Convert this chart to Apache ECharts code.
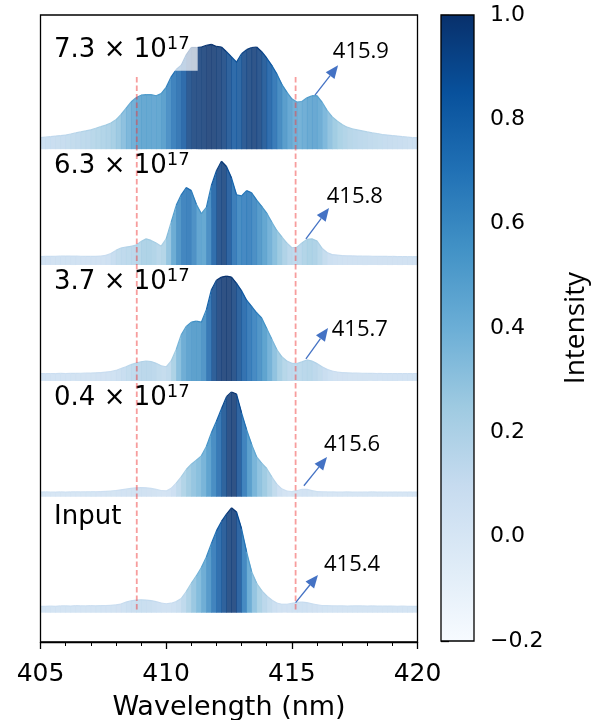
<!DOCTYPE html>
<html><head><meta charset="utf-8">
<script src="https://cdn.jsdelivr.net/npm/echarts@6/dist/echarts.min.js"></script>
<style>html,body{margin:0;padding:0;background:#fff}#c{width:601px;height:720px}</style>
</head><body><div id="c"></div>
<script>
// ---------- data ----------
const wavelengths = [405.0,405.2,405.4,405.6,405.8,406.0,406.2,406.4,406.6,406.8,407.0,407.2,407.4,407.6,407.8,408.0,408.2,408.4,408.6,408.8,409.0,409.2,409.4,409.6,409.8,410.0,410.2,410.4,410.6,410.8,411.0,411.2,411.4,411.6,411.8,412.0,412.2,412.4,412.6,412.8,413.0,413.2,413.4,413.6,413.8,414.0,414.2,414.4,414.6,414.8,415.0,415.2,415.4,415.6,415.8,416.0,416.2,416.4,416.6,416.8,417.0,417.2,417.4,417.6,417.8,418.0,418.2,418.4,418.6,418.8,419.0,419.2,419.4,419.6,419.8,420.0];

const specInput = [0.06,0.06,0.062,0.06,0.064,0.065,0.063,0.066,0.065,0.064,0.066,0.065,0.067,0.068,0.07,0.074,0.082,0.1,0.113,0.12,
  0.122,0.12,0.115,0.105,0.092,0.085,0.09,0.105,0.135,0.2,0.28,0.35,0.43,0.53,0.66,0.78,0.87,0.94,1.0,0.96,
  0.8,0.58,0.39,0.28,0.21,0.16,0.12,0.092,0.08,0.08,0.088,0.097,0.1,0.095,0.085,0.075,0.068,0.066,
  0.065,0.064,0.065,0.063,0.064,0.065,0.064,0.063,0.064,0.063,0.062,0.063,0.062,0.061,0.062,0.061,0.06,0.06];

const spec04 = [0.045,0.046,0.044,0.045,0.046,0.045,0.046,0.047,0.046,0.047,0.048,0.048,0.05,0.052,0.055,0.06,0.066,0.073,0.08,0.085,
  0.087,0.086,0.08,0.07,0.06,0.056,0.08,0.13,0.19,0.26,0.31,0.35,0.39,0.48,0.61,0.72,0.84,0.955,1.0,0.98,
  0.8,0.64,0.5,0.38,0.32,0.27,0.19,0.12,0.075,0.055,0.05,0.058,0.072,0.07,0.058,0.05,
  0.047,0.046,0.046,0.045,0.045,0.046,0.045,0.044,0.045,0.045,0.046,0.045,0.045,0.044,0.045,0.045,0.044,0.045,0.045,0.044];

const spec37 = [0.07,0.07,0.071,0.07,0.072,0.071,0.072,0.072,0.073,0.074,0.075,0.077,0.08,0.084,0.09,0.1,0.118,0.135,0.155,0.17,
  0.183,0.19,0.185,0.168,0.145,0.135,0.19,0.3,0.44,0.52,0.56,0.57,0.56,0.68,0.87,0.96,0.99,1.0,0.99,0.93,
  0.86,0.77,0.71,0.65,0.6,0.5,0.4,0.3,0.23,0.19,0.168,0.165,0.182,0.2,0.19,0.165,0.135,0.11,0.095,0.085,
  0.08,0.077,0.075,0.074,0.073,0.072,0.072,0.071,0.071,0.07,0.071,0.07,0.07,0.07,0.07,0.07];

const spec63 = [0.08,0.082,0.083,0.084,0.085,0.086,0.085,0.085,0.084,0.083,0.082,0.083,0.085,0.092,0.11,0.14,0.163,0.172,0.178,0.19,
  0.225,0.25,0.235,0.21,0.18,0.25,0.41,0.57,0.67,0.74,0.71,0.58,0.49,0.55,0.76,0.9,0.99,0.94,0.83,0.67,
  0.66,0.71,0.69,0.62,0.56,0.495,0.41,0.33,0.27,0.21,0.165,0.17,0.21,0.245,0.25,0.23,0.16,0.12,0.1,0.095,
  0.09,0.088,0.087,0.086,0.085,0.085,0.084,0.083,0.083,0.082,0.082,0.081,0.081,0.08,0.08,0.08];

const spec73 = [0.11,0.115,0.12,0.125,0.13,0.135,0.145,0.155,0.165,0.175,0.185,0.2,0.215,0.23,0.25,0.28,0.33,0.39,0.45,0.49,
  0.515,0.52,0.52,0.51,0.53,0.59,0.69,0.76,0.8,0.9,0.97,0.97,0.975,0.99,1.0,0.98,0.975,0.93,0.88,0.83,
  0.91,0.95,0.97,0.975,0.93,0.87,0.8,0.72,0.62,0.545,0.48,0.45,0.455,0.49,0.51,0.51,0.45,0.37,0.31,0.27,
  0.235,0.21,0.195,0.185,0.175,0.165,0.155,0.15,0.14,0.135,0.13,0.125,0.12,0.115,0.11,0.11];

const spectra = [specInput, spec04, spec37, spec63, spec73];
const fluenceMantissa = ['Input', '0.4', '3.7', '6.3', '7.3'];
const fluenceExponent = '17';
const peakLabels = ['415.4', '415.6', '415.7', '415.8', '415.9'];
const markerWavelengths = [408.83, 415.15];
const xTicks = [405, 410, 415, 420];
const colorbarTicks = [-0.2, 0.0, 0.2, 0.4, 0.6, 0.8, 1.0];

// ---------- layout / annotation settings ----------
const OFFSET_STEP = 1.105;
const offsets = spectra.map((_, i) => i * OFFSET_STEP);
const Y_MIN = -0.28, Y_MAX = 5.70;
const arrowFrom = [[415.15,0.095],[415.48,0.105],[415.56,0.21],[415.56,0.25],[415.92,0.515]];
const arrowTo   = [[416.04,0.36],[416.40,0.38],[416.44,0.505],[416.48,0.545],[416.84,0.80]];
const peakLabelAt = [[416.28,0.461],[416.28,0.499],[416.59,0.491],[416.39,0.649],[416.63,0.932]];
const nameLabelX = 405.30;
const nameLabelY = [0.90, 0.925, 0.925, 0.925, 0.925];
const dashRange = [0.03, 5.12];

const blues = ['#f7fbff','#deebf7','#c6dbef','#9ecae1','#6baed6','#4292c6','#2171b5','#08519c','#08306b'];

const chart = echarts.init(document.getElementById('c'), null, {renderer:'canvas'});

function makeSpectrum(off){
  return function(params, api){
    const x0 = api.value(0), v0 = api.value(1), x1 = api.value(2), v1 = api.value(3);
    const b0 = api.coord([x0, off]), t0 = api.coord([x0, off+v0]);
    const t1 = api.coord([x1, off+v1]), b1 = api.coord([x1, off]);
    const color = api.visual('color');
    return {type:'group', children:[
      {type:'polygon', shape:{points:[[b0[0],b0[1]],[t0[0],t0[1]],[t1[0]+0.5,t1[1]],[b1[0]+0.5,b1[1]]]},
        style:{fill:color, opacity:0.84}},
      {type:'line', shape:{x1:t0[0],y1:t0[1],x2:t1[0],y2:t1[1]}, style:{stroke:color, lineWidth:1.2}}
    ]};
  };
}

const series = [];
spectra.forEach((vals, s) => {
  const data = [];
  for (let i = 0; i < wavelengths.length - 1; i++) {
    data.push([wavelengths[i], vals[i], wavelengths[i+1], vals[i+1], (vals[i]+vals[i+1])/2]);
  }
  series.push({type:'custom', xAxisIndex:0, yAxisIndex:0, silent:true, z:2, data,
    encode:{x:[0,2], y:[1,3]}, renderItem: makeSpectrum(offsets[s])});
});

// dashed reference lines (drawn on top)
markerWavelengths.forEach(w => {
  series.push({type:'line', xAxisIndex:0, yAxisIndex:0, silent:true, z:9, showSymbol:false, symbol:'none',
    data:[[w, dashRange[0]],[w, dashRange[1]]],
    lineStyle:{color:'rgba(240,60,60,0.5)', width:1.8, type:[5.5,3]}});
});

// arrows + peak labels
series.push({type:'custom', xAxisIndex:0, yAxisIndex:0, silent:true, z:6,
  data: peakLabels.map((t, i) => [arrowFrom[i][0], arrowFrom[i][1]+offsets[i], arrowTo[i][0], arrowTo[i][1]+offsets[i],
                                   peakLabelAt[i][0], peakLabelAt[i][1]+offsets[i], i]),
  renderItem: function(params, api){
    const f = api.coord([api.value(0), api.value(1)]);
    const t = api.coord([api.value(2), api.value(3)]);
    const lp = api.coord([api.value(4), api.value(5)]);
    const idx = api.value(6);
    const dx = t[0]-f[0], dy = t[1]-f[1], len = Math.hypot(dx, dy);
    const ux = dx/len, uy = dy/len, nx = -uy, ny = ux;
    const L = 13, W = 5.5;
    const cx = t[0]-ux*L, cy = t[1]-uy*L;
    return {type:'group', children:[
      {type:'line', shape:{x1:f[0],y1:f[1],x2:cx,y2:cy}, style:{stroke:'#4472c4', lineWidth:1.3}},
      {type:'polygon', shape:{points:[[t[0],t[1]],[cx+nx*W,cy+ny*W],[cx-nx*W,cy-ny*W]]}, style:{fill:'#4472c4'}},
      {type:'text', x:lp[0], y:lp[1], style:{text:peakLabels[idx], fontSize:22, fontFamily:'Open Sans', fill:'#000',
        align:'left', verticalAlign:'middle'}}
    ]};
  }});

// fluence labels
series.push({type:'custom', xAxisIndex:0, yAxisIndex:0, silent:true, z:8,
  data: fluenceMantissa.map((m, i) => [nameLabelX, nameLabelY[i]+offsets[i], i]),
  renderItem: function(params, api){
    const p = api.coord([api.value(0), api.value(1)]);
    const i = api.value(2);
    const txt = i === 0 ? '{m|' + fluenceMantissa[i] + '}' : '{m|' + fluenceMantissa[i] + ' × 10}{s|' + fluenceExponent + '}';
    return {type:'text', x:p[0], y:p[1], style:{text:txt,
      rich:{m:{fontSize:26, fontFamily:'DejaVu Sans', fill:'#000', lineHeight:30},
            s:{fontSize:18, fontFamily:'DejaVu Sans', fill:'#000', verticalAlign:'top', lineHeight:18}},
      align:'left', verticalAlign:'middle', backgroundColor:'rgba(255,255,255,0.7)', padding:[2,8,5,6]}};
  }});

// colorbar
series.push({type:'custom', xAxisIndex:1, yAxisIndex:1, silent:true, z:2, data:[[0]],
  renderItem: function(params, api){
    const a = api.coord([0, colorbarTicks[colorbarTicks.length-1]]);
    const b = api.coord([1, colorbarTicks[0]]);
    return {type:'rect', shape:{x:a[0], y:a[1], width:b[0]-a[0], height:b[1]-a[1]},
      style:{fill:new echarts.graphic.LinearGradient(0,1,0,0, blues.map((c,i)=>({offset:i/(blues.length-1), color:c}))),
             stroke:'#000', lineWidth:1.3}};
  }});

chart.setOption({
  animation:false,
  backgroundColor:'#fff',
  grid:[
    {left:40.5, top:15, width:377, height:627, show:true, borderColor:'#000', borderWidth:1.3, backgroundColor:'transparent', z:10,
      containLabel:false, outerBoundsMode:'none'},
    {left:441, top:15, width:33, height:626, show:false, containLabel:false, outerBoundsMode:'none'}
  ],
  visualMap:{type:'continuous', show:false, min:colorbarTicks[0], max:colorbarTicks[colorbarTicks.length-1],
    dimension:4, seriesIndex:[0,1,2,3,4], inRange:{color:blues}},
  xAxis:[
    {type:'value', gridIndex:0, position:'bottom', min:xTicks[0], max:xTicks[xTicks.length-1], interval:xTicks[1]-xTicks[0],
      axisLine:{show:true, onZero:false, lineStyle:{color:'#000', width:1.3}},
      axisTick:{show:true, inside:false, length:7, lineStyle:{color:'#000', width:1.3}},
      minorTick:{show:true, splitNumber:5, length:4, lineStyle:{color:'#000', width:1}},
      axisLabel:{fontSize:25, color:'#000', margin:20, fontFamily:'DejaVu Sans', showMinLabel:true, showMaxLabel:true},
      splitLine:{show:false},
      name:'Wavelength (nm)', nameLocation:'middle', nameGap:52,
      nameTextStyle:{fontSize:27, color:'#000', fontFamily:'DejaVu Sans'}},
    {type:'value', gridIndex:1, min:0, max:1, show:false}
  ],
  yAxis:[
    {type:'value', gridIndex:0, min:Y_MIN, max:Y_MAX, show:false},
    {type:'value', gridIndex:1, position:'right', min:colorbarTicks[0], max:colorbarTicks[colorbarTicks.length-1], interval:0.2,
      axisLine:{show:false},
      axisTick:{show:true, length:8, lineStyle:{color:'#000', width:1.3}},
      axisLabel:{fontSize:22, color:'#000', margin:16, fontFamily:'DejaVu Sans', showMinLabel:true, showMaxLabel:true,
        formatter: v => { const r = Math.abs(v) < 1e-9 ? 0 : v; return r.toFixed(1).replace('-', '\u2212'); }},
      splitLine:{show:false},
      name:'Intensity', nameLocation:'middle', nameRotate:90, nameGap:88,
      nameTextStyle:{fontSize:28, color:'#000', fontFamily:'Open Sans'}}
  ],
  series
});
</script>
</body></html>
